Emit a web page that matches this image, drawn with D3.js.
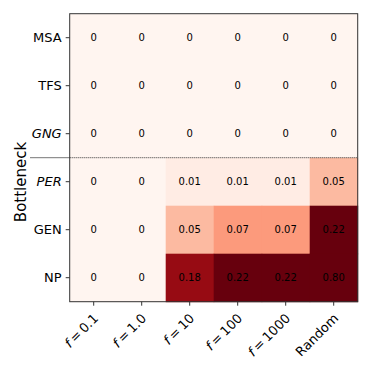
<!DOCTYPE html>
<html>
<head>
<meta charset="utf-8">
<script src="https://cdn.jsdelivr.net/npm/d3@7"></script>
<style>
  body { margin: 0; background: #fff; }
  svg { font-family: "DejaVu Sans", sans-serif; }
</style>
</head>
<body>
<div id="chart"></div>
<script>
// rows (bottlenecks), top to bottom
const rows = ['MSA', 'TFS', 'GNG', 'PER', 'GEN', 'NP'];
const italicRows = ['GNG', 'PER'];
// columns: [italic part, rest]
const cols = [['f', '\u2009=\u20090.1'], ['f', '\u2009=\u20091.0'], ['f', '\u2009=\u200910'], ['f', '\u2009=\u2009100'], ['f', '\u2009=\u20091000'], ['', 'Random']];

const values = [
    [0, 0, 0, 0, 0, 0],
    [0, 0, 0, 0, 0, 0],
    [0, 0, 0, 0, 0, 0],
    [0, 0, 0.01, 0.01, 0.01, 0.05],
    [0, 0, 0.05, 0.07, 0.07, 0.22],
    [0, 0, 0.18, 0.22, 0.22, 0.80]
];

const width = 374;
const height = 374;
const margin = { left: 69.7, top: 13.7 };
const cell = 48;

const svg = d3.select('#chart').append('svg')
    .attr('width', width)
    .attr('height', height);

const x = d3.scaleBand().domain(d3.range(cols.length)).range([margin.left, margin.left + cell * cols.length]);
const y = d3.scaleBand().domain(rows).range([margin.top, margin.top + cell * rows.length]);
const color = d3.scaleSequential(d3.interpolateReds).domain([0, 0.2]).clamp(true);

const cells = [];
values.forEach((r, i) => r.forEach((v, j) => cells.push({ row: rows[i], col: j, v })));

// heatmap cells
svg.append('g').selectAll('rect')
    .data(cells)
    .enter()
    .append('rect')
    .attr('x', d => x(d.col))
    .attr('y', d => y(d.row))
    .attr('width', x.bandwidth() + 0.5)
    .attr('height', y.bandwidth() + 0.5)
    .attr('fill', d => color(d.v));

// cell annotations
svg.append('g').selectAll('text')
    .data(cells)
    .enter()
    .append('text')
    .attr('x', d => x(d.col) + x.bandwidth() / 2)
    .attr('y', d => y(d.row) + y.bandwidth() / 2)
    .attr('dy', '0.35em')
    .attr('text-anchor', 'middle')
    .attr('font-size', 10)
    .attr('fill', '#000')
    .text(d => d.v === 0 ? '0' : d.v.toFixed(2));

// separator between GNG and PER
const sepY = y('PER');
svg.append('line')
    .attr('x1', 30).attr('x2', margin.left)
    .attr('y1', sepY).attr('y2', sepY)
    .attr('stroke', '#777').attr('stroke-width', 1);
svg.append('line')
    .attr('x1', margin.left).attr('x2', margin.left + cell * cols.length)
    .attr('y1', sepY).attr('y2', sepY)
    .attr('stroke', '#333').attr('stroke-width', 1)
    .attr('stroke-dasharray', '1,1');

// axes
const yAxis = d3.axisLeft(y).tickSize(4).tickPadding(4);
const gy = svg.append('g')
    .attr('transform', `translate(${margin.left},0)`)
    .call(yAxis);
gy.select('.domain').remove();
gy.selectAll('text')
    .attr('font-size', 13)
    .attr('font-family', '"DejaVu Sans", sans-serif')
    .attr('fill', '#000')
    .attr('font-style', d => italicRows.includes(d) ? 'italic' : 'normal');
gy.selectAll('line').attr('stroke', '#333');

const bottom = margin.top + cell * rows.length;
const xAxis = d3.axisBottom(x).tickSize(4).tickFormat('');
const gx = svg.append('g')
    .attr('transform', `translate(0,${bottom})`)
    .call(xAxis);
gx.select('.domain').remove();
gx.selectAll('line').attr('stroke', '#333');

// rotated x labels
const xl = svg.append('g').selectAll('text')
    .data(cols)
    .enter()
    .append('text')
    .attr('transform', (d, i) => `translate(${x(i) + x.bandwidth() / 2 - 1},${bottom + 11}) rotate(-45)`)
    .attr('text-anchor', 'end')
    .attr('dy', '0.7em')
    .attr('font-size', 13)
    .attr('fill', '#000');
xl.append('tspan').attr('font-style', 'italic').text(d => d[0]);
xl.append('tspan').text(d => d[1]);

// frame
svg.append('rect')
    .attr('x', margin.left).attr('y', margin.top)
    .attr('width', cell * cols.length).attr('height', cell * rows.length)
    .attr('fill', 'none').attr('stroke', '#333').attr('stroke-width', 1);

// y label
svg.append('text')
    .attr('transform', `translate(21,182) rotate(-90)`)
    .attr('text-anchor', 'middle')
    .attr('dy', '0.35em')
    .attr('font-size', 15)
    .attr('fill', '#000')
    .text('Bottleneck');
</script>
</body>
</html>
